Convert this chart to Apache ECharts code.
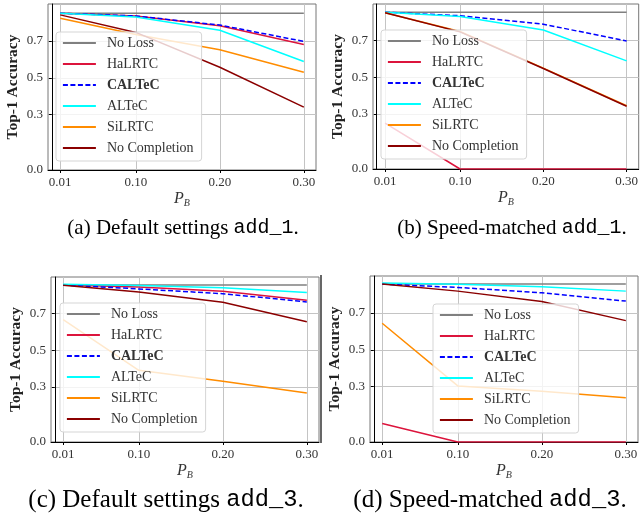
<!DOCTYPE html>
<html>
<head>
<meta charset="utf-8">
<script src="https://cdn.jsdelivr.net/npm/echarts@6/dist/echarts.min.js"></script>
<style>
  html, body { margin: 0; padding: 0; background: #fff; }
  #chart { width: 641px; height: 523px; }
</style>
</head>
<body>
<div id="chart"></div>
<script>
// x positions (P_B) and tick labels
const pB = [0.01, 0.10, 0.20, 0.30];
const yTicks = [0.0, 0.3, 0.5, 0.7];
const methods = ['No Loss', 'HaLRTC', 'CALTeC', 'ALTeC', 'SiLRTC', 'No Completion'];
const captions = [
  ['(a) Default settings ', 'add_1'],
  ['(b) Speed-matched ', 'add_1'],
  ['(c) Default settings ', 'add_3'],
  ['(d) Speed-matched ', 'add_3']
];

// (a) default settings add_1
const noLossA = [0.85, 0.85, 0.85, 0.85];
const haA = [0.85, 0.835, 0.782, 0.68];
const calA = [0.85, 0.835, 0.786, 0.697];
const alA = [0.85, 0.83, 0.758, 0.588];
const siA = [0.823, 0.735, 0.652, 0.53];
const ncA = [0.841, 0.746, 0.557, 0.341];

// (b) speed-matched add_1
const noLossB = [0.855, 0.855, 0.855, 0.855];
const haB = [0.25, 0.0, 0.0, 0.0];
const calB = [0.855, 0.836, 0.79, 0.698];
const alB = [0.855, 0.832, 0.758, 0.59];
const siB = [0.852, 0.75, 0.55, 0.345];
const ncB = [0.852, 0.748, 0.548, 0.342];

// (c) default settings add_3
const noLossC = [0.856, 0.856, 0.856, 0.856];
const haC = [0.856, 0.845, 0.822, 0.773];
const calC = [0.856, 0.835, 0.809, 0.764];
const alC = [0.86, 0.853, 0.842, 0.816];
const siC = [0.667, 0.391, 0.331, 0.267];
const ncC = [0.855, 0.818, 0.762, 0.656];

// (d) speed-matched add_3
const noLossD = [0.856, 0.856, 0.856, 0.856];
const haD = [0.1, 0.0, 0.0, 0.0];
const calD = [0.856, 0.838, 0.809, 0.764];
const alD = [0.862, 0.855, 0.842, 0.818];
const siD = [0.644, 0.304, 0.275, 0.24];
const ncD = [0.856, 0.818, 0.762, 0.658];

const panels = [
  [noLossA, haA, calA, alA, siA, ncA],
  [noLossB, haB, calB, alB, siB, ncB],
  [noLossC, haC, calC, alC, siC, ncC],
  [noLossD, haD, calD, alD, siD, ncD]
];

const colors = ['#808080', '#dc143c', '#0000ff', '#00ffff', '#ff8c00', '#8b0000'];
const serif = '"Liberation Serif", "DejaVu Serif", serif';
const mono = '"Liberation Mono", "DejaVu Sans Mono", monospace';
const ink = '#333';

// grid boxes [left, top, width, height]
const boxes = [
  [48, 4, 268, 166],
  [373, 4, 269, 165],
  [51, 277, 268, 165],
  [370, 276, 268, 166]
];
const legendPos = [[56, 32], [381, 30], [60, 303], [433, 304]];
const capPos = [[183, 228, 21], [512, 228, 21], [166, 500, 25], [490, 500, 25]];

const chart = echarts.init(document.getElementById('chart'), null, { renderer: 'canvas' });

const grid = boxes.map(b => ({
  left: b[0], top: b[1], width: b[2], height: b[3],
  show: true, borderColor: '#777', borderWidth: 1, backgroundColor: 'transparent'
}));

const xAxis = boxes.map((b, i) => ({
  type: 'value', gridIndex: i, min: -0.0045, max: 0.3145,
  name: '{p|P}{s|B}', nameLocation: 'middle', nameGap: 19,
  nameTextStyle: {
    rich: {
      p: { fontFamily: serif, fontStyle: 'italic', fontSize: 16, color: ink },
      s: { fontFamily: serif, fontStyle: 'italic', fontSize: 10, color: ink, padding: [9, 0, 0, 0] }
    }
  },
  axisLine: { show: true, onZero: false, lineStyle: { color: '#000', width: 1 } },
  axisTick: { show: true, length: 3, customValues: pB, lineStyle: { color: '#000' } },
  axisLabel: {
    customValues: pB, margin: 6, fontFamily: serif, fontSize: 13, color: ink,
    formatter: v => v.toFixed(2)
  },
  splitLine: { show: true, lineStyle: { color: '#c4c4c4', width: 1 } }
}));

const yAxis = boxes.map((b, i) => ({
  type: 'value', gridIndex: i, min: 0, max: 0.9,
  name: 'Top-1 Accuracy', nameLocation: 'middle', nameGap: 27, nameRotate: 90,
  nameTextStyle: { fontFamily: serif, fontWeight: 'bold', fontSize: 15.5, color: '#222' },
  axisLine: { show: true, lineStyle: { color: '#000', width: 1 } },
  axisTick: { show: true, length: 3, customValues: yTicks, lineStyle: { color: '#000' } },
  axisLabel: {
    customValues: yTicks, margin: 5, fontFamily: serif, fontSize: 13, color: ink,
    formatter: v => v.toFixed(1)
  },
  splitLine: { show: true, lineStyle: { color: '#c4c4c4', width: 1 } }
}));

const series = [];
panels.forEach((lines, p) => {
  lines.forEach((vals, m) => {
    series.push({
      type: 'line', name: methods[m], xAxisIndex: p, yAxisIndex: p,
      symbol: 'none', animation: false, z: 2 + m * 0.01,
      color: colors[m],
      lineStyle: { color: colors[m], width: 1.5, type: m === 2 ? [5, 2.5] : 'solid' },
      data: pB.map((x, k) => [x, vals[k]])
    });
  });
});

const legend = legendPos.map(pos => ({
  left: pos[0], top: pos[1], orient: 'vertical',
  data: methods, itemWidth: 33, itemHeight: 14, itemGap: 7,
  padding: [4, 8, 6, 6],
  backgroundColor: 'rgba(255,255,255,0.8)', borderColor: '#d5d5d5', borderWidth: 1, borderRadius: 3,
  selectedMode: false,
  itemStyle: { opacity: 0 },
  lineStyle: { width: 1.8 },
  formatter: n => n === 'CALTeC' ? '{b|CALTeC}' : n,
  textStyle: {
    fontFamily: serif, fontSize: 14, color: ink, padding: [0, 0, 0, 6],
    rich: { b: { fontFamily: serif, fontSize: 14, fontWeight: 'bold', color: ink } }
  }
}));

const graphic = capPos.map((c, i) => ({
  type: 'text', x: c[0], y: c[1],
  style: {
    text: '{t|' + captions[i][0] + '}{m|' + captions[i][1] + '}{t|.}',
    align: 'center', verticalAlign: 'middle',
    rich: {
      t: { fontFamily: serif, fontSize: c[2], fill: '#000' },
      m: { fontFamily: mono, fontSize: c[2] * 0.95, fill: '#000' }
    }
  }
}));
graphic.push({
  type: 'line', shape: { x1: 321, y1: 275, x2: 321, y2: 443 },
  style: { stroke: '#000', lineWidth: 1.2 }
});

chart.setOption({
  animation: false,
  backgroundColor: '#fff',
  grid, xAxis, yAxis, series, legend, graphic
});
</script>
</body>
</html>
